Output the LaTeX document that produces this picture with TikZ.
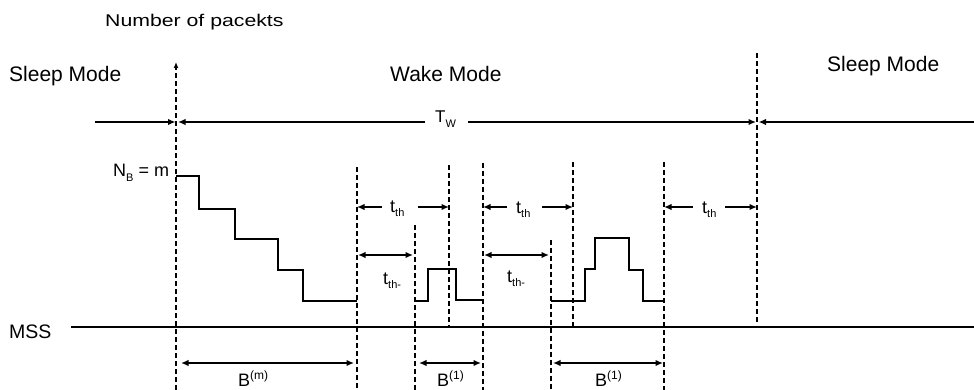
\documentclass[tikz,border=0pt]{standalone}
\usepackage{fontspec}
\setmainfont{Liberation Sans}
\usetikzlibrary{arrows.meta}
\newcommand{\lsub}[1]{\raisebox{-0.45ex}{\fontsize{11}{12}\selectfont #1}}
\newcommand{\lsup}[1]{\raisebox{0.7ex}{\fontsize{12}{12}\selectfont #1}}
\tikzset{
  txt/.style={inner sep=0pt, anchor=base west, font=\fontsize{18}{20}\selectfont},
  modetxt/.style={txt, font=\fontsize{21}{24}\selectfont},
  vline/.style={line width=1.2pt, dash pattern=on 5pt off 3pt},
  sline/.style={line width=1.8pt},
  tip/.tip={Latex[length=7.5pt,width=6.5pt]},
  arr/.style={sline, -tip},
  darr/.style={sline, tip-tip},
  curve/.style={line width=1.5pt}
}
\begin{document}
\begin{tikzpicture}[x=1pt,y=-1pt]
\useasboundingbox (0,0) rectangle (974,390);

% texts
\node[txt] (num) at (105,27) {\scalebox{1.25}[1]{\fontsize{17}{20}\selectfont Number of pacekts}};
\node[modetxt] (sl1) at (9,82) {Sleep Mode};
\node[modetxt] (wake) at (390,82) {Wake Mode};
\node[modetxt] (sl2) at (827,72) {Sleep Mode};
\node[txt] (nb) at (113,177) {N\lsub{B} = m};
\node[txt, font=\fontsize{19.5}{22}\selectfont] (mss) at (9,338) {MSS};
\node[txt, font=\fontsize{17}{20}\selectfont] (tw) at (435,123) {T\lsub{W}};
\node[txt] (th1) at (390,212) {t\lsub{th}};
\node[txt] (th2) at (516,213) {t\lsub{th}};
\node[txt] (th3) at (702,213) {t\lsub{th}};
\node[txt] (thm1) at (383,284) {t\lsub{th-}};
\node[txt] (thm2) at (507,282) {t\lsub{th-}};
\node[txt] (bm) at (238,386) {B\lsup{(m)}};
\node[txt] (b1) at (437,386) {B\lsup{(1)}};
\node[txt] (b2) at (595,386) {B\lsup{(1)}};

% vertical dashed lines
\coordinate (v0t) at (176,62);  \coordinate (v0b) at (176,390);
\coordinate (v1t) at (357,167); \coordinate (v1b) at (357,390);
\coordinate (v2t) at (415,225); \coordinate (v2b) at (415,390);
\coordinate (v3t) at (449,165); \coordinate (v3b) at (449,327);
\coordinate (v4t) at (483,163); \coordinate (v4b) at (483,390);
\coordinate (v5t) at (551,240); \coordinate (v5b) at (551,390);
\coordinate (v6t) at (573,162); \coordinate (v6b) at (573,327);
\coordinate (v7t) at (664,162); \coordinate (v7b) at (664,390);
\coordinate (v8t) at (757,53);  \coordinate (v8b) at (757,322);
\draw[vline, -{Latex[length=6pt,width=5pt]}] (v0b) -- (v0t);
\foreach \i in {1,...,8} \draw[vline] (v\i t) -- (v\i b);

% T_W line
\coordinate (tw0) at (95,122);  \coordinate (tw1) at (175.5,122);
\coordinate (tw2) at (178,122); \coordinate (tw3) at (425,122);
\coordinate (tw4) at (468,122); \coordinate (tw5) at (756,122);
\coordinate (tw6) at (758.5,122); \coordinate (tw7) at (974,122);
\draw[arr] (tw0) -- (tw1);
\draw[arr] (tw3) -- (tw2);
\draw[arr] (tw4) -- (tw5);
\draw[arr] (tw7) -- (tw6);

% MSS line
\coordinate (m0) at (71,327); \coordinate (m1) at (974,327);
\draw[line width=2pt] (m0) -- (m1);

% t_th arrows
\coordinate (a1l) at (382,207); \coordinate (a1r) at (418,207);
\coordinate (a1e) at (357,207); \coordinate (a1f) at (449,207);
\draw[arr] (a1l) -- (a1e);
\draw[arr] (a1r) -- (a1f);
\coordinate (a2l) at (507,207); \coordinate (a2r) at (542,207);
\coordinate (a2e) at (483,207); \coordinate (a2f) at (573,207);
\draw[arr] (a2l) -- (a2e);
\draw[arr] (a2r) -- (a2f);
\coordinate (a3l) at (693,207); \coordinate (a3r) at (725,207);
\coordinate (a3e) at (664,207); \coordinate (a3f) at (757,207);
\draw[arr] (a3l) -- (a3e);
\draw[arr] (a3r) -- (a3f);

% t_th- arrows
\coordinate (b1l) at (358,255); \coordinate (b1r) at (413,255);
\draw[darr] (b1l) -- (b1r);
\coordinate (b2l) at (484,255); \coordinate (b2r) at (549,255);
\draw[darr] (b2l) -- (b2r);

% bottom arrows
\coordinate (c1l) at (181,363); \coordinate (c1r) at (354,363);
\draw[darr] (c1l) -- (c1r);
\coordinate (c2l) at (419,363); \coordinate (c2r) at (481,363);
\draw[darr] (c2l) -- (c2r);
\coordinate (c3l) at (553,363); \coordinate (c3r) at (663,363);
\draw[darr] (c3l) -- (c3r);

% staircase
\draw[curve] (176,176) -- (199,176) -- (199,209) -- (235,209) -- (235,239)
  -- (278,239) -- (278,270) -- (303,270) -- (303,301) -- (357,301);
% pulse 1
\draw[curve] (415,301) -- (428,301) -- (428,269) -- (456,269) -- (456,300) -- (483,300);
% pulse 2
\draw[curve] (551,301) -- (585,301) -- (585,269) -- (595,269) -- (595,238)
  -- (629,238) -- (629,270) -- (643,270) -- (643,301) -- (664,301);
\end{tikzpicture}
\end{document}
